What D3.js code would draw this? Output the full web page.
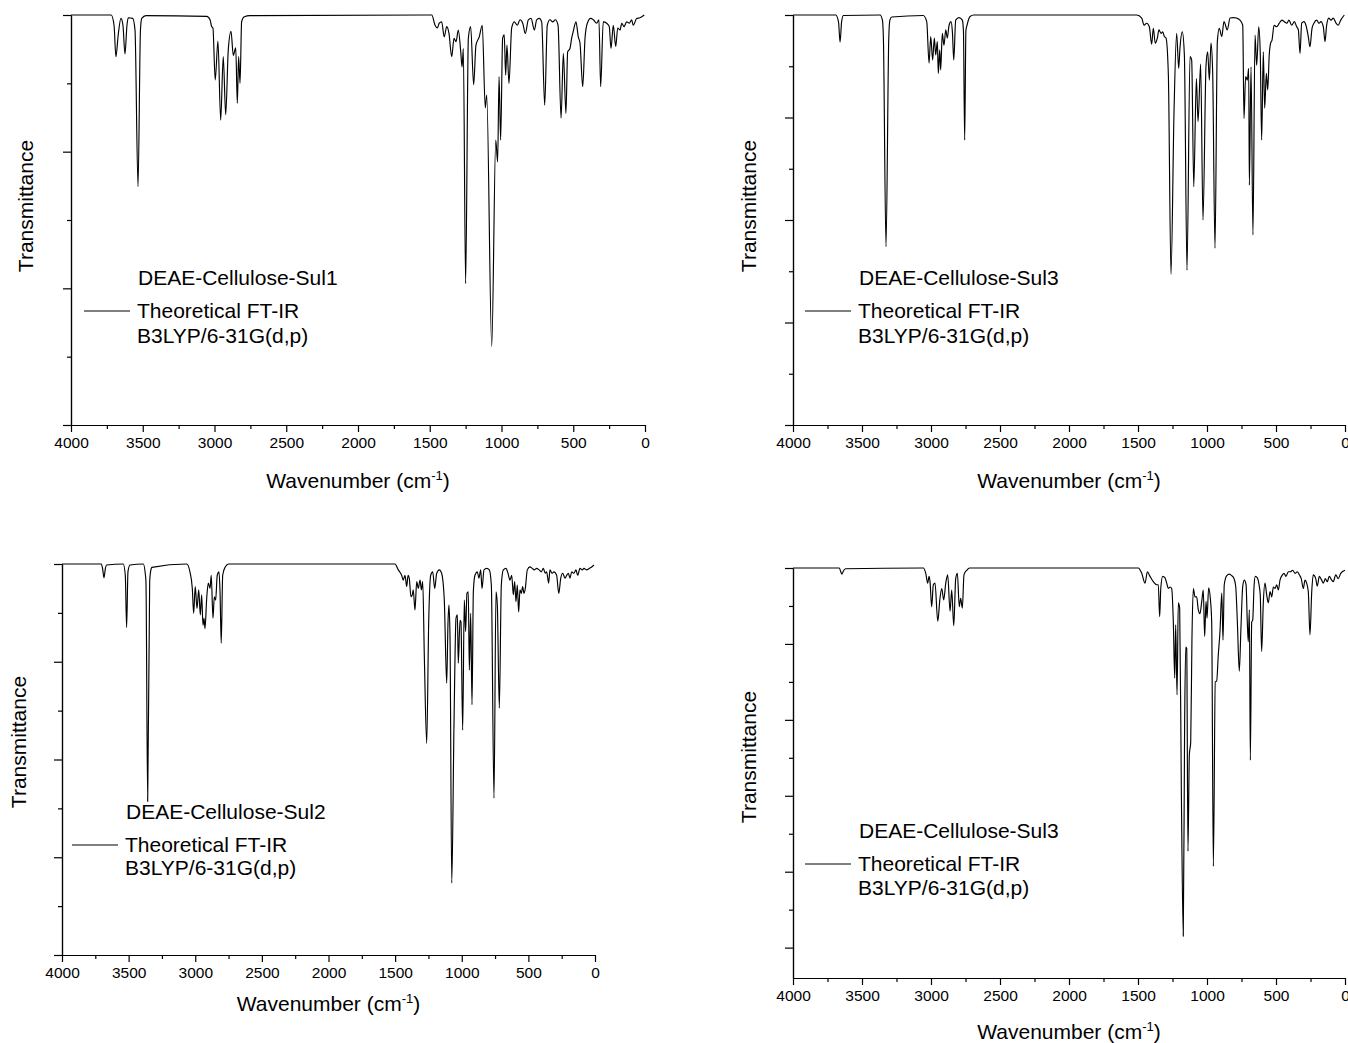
<!DOCTYPE html>
<html>
<head>
<meta charset="utf-8">
<script src="https://cdn.jsdelivr.net/npm/d3@7"></script>
<style>
	body { margin: 0; background: #fff; }
	svg text { font-family: "Liberation Sans", Arial, sans-serif; fill: #000; }
	.axis path, .axis line { stroke: #000; stroke-width: 1.2; }
	.spectrum { fill: none; stroke: #000; stroke-width: 1.15; }
</style>
</head>
<body>
<svg id="figure" width="1348" height="1043"></svg>
<script>

// Wavenumber ticks (cm-1)
var wnMajor = [4000, 3500, 3000, 2500, 2000, 1500, 1000, 500, 0];
var wnMinor = [3750, 3250, 2750, 2250, 1750, 1250, 750, 250];

var panelTitles = ["DEAE-Cellulose-Sul1", "DEAE-Cellulose-Sul3", "DEAE-Cellulose-Sul2", "DEAE-Cellulose-Sul3"];
var legendLines = ["Theoretical FT-IR", "B3LYP/6-31G(d,p)"];

// Spectra: [wavenumber, transmittance]
var sul1 = [
	[4000,100],[3720,100],[3700,98.5],[3687,93.9],[3671,97.1],[3652,99.5],[3638,98.5],[3624,94.3],[3610,98.5],[3601,99.6],
	[3570,99.5],[3554,97.8],[3533,74.9],[3516,97.8],[3507,99.5],[3478,99.9],[3054,99.8],[3031,99.3],[3020,98.3],[3011,98.1],
	[2995,90.5],[2976,96.2],[2957,84.6],[2939,93.9],[2922,85.4],[2904,94.9],[2885,97.6],[2869,94.1],[2852,95.2],[2841,87.1],
	[2832,93.9],[2822,90.0],[2811,99.0],[2795,99.7],[2753,99.9],[1486,100],[1463,98.5],[1447,98.1],[1434,98.8],[1417,99.0],
	[1399,96.8],[1382,98.3],[1366,97.3],[1347,93.9],[1331,96.6],[1317,96.1],[1301,97.8],[1284,94.6],[1275,92.4],[1266,95.1],
	[1250,60.7],[1231,96.6],[1215,98.3],[1194,89.8],[1178,95.6],[1155,96.8],[1134,98.5],[1113,86.4],[1103,88.3],[1068,51.5],
	[1040,81.7],[1027,78.5],[1017,91.0],[1006,81.7],[992,96.6],[981,97.1],[971,91.2],[962,95.6],[948,90.0],[929,98.1],
	[911,99.0],[890,98.5],[871,99.3],[852,98.8],[834,97.3],[813,99.3],[794,99.5],[771,97.8],[755,99.3],[737,99.5],
	[720,99.0],[699,86.8],[681,98.5],[662,99.3],[643,99.0],[625,99.3],[606,98.5],[585,84.9],[569,94.4],[551,85.6],
	[539,94.6],[523,95.1],[511,96.6],[500,97.6],[481,99.0],[465,96.8],[453,95.9],[434,89.5],[418,96.6],[402,98.8],
	[378,99.5],[360,99.3],[337,98.8],[321,99.3],[309,89.5],[291,99.0],[267,98.8],[249,98.3],[237,95.1],[221,98.5],
	[204,95.4],[190,98.1],[174,97.8],[162,98.8],[146,98.3],[128,99.0],[109,98.8],[93,99.3],[82,98.5],[58,99.5],
	[35,99.6],[5,100]
];

var sul3a = [
	[4000,100],[3690,100],[3670,98.6],[3659,94.7],[3648,98.6],[3635,99.9],[3369,100],[3352,99],[3345,95.5],[3326,54.8],
	[3306,95.5],[3298,99],[3285,99.6],[3056,99.9],[3031,98.7],[3014,90.6],[3002,95.8],[2988,91.2],[2976,95.5],[2966,92.2],
	[2954,94.8],[2947,88.6],[2937,93.2],[2930,89.3],[2918,96.4],[2906,94.1],[2893,97.1],[2882,95.5],[2869,98.0],[2855,98.7],
	[2845,96.7],[2835,91.2],[2821,99.0],[2797,99.5],[2773,99.0],[2765,97],[2756,75.6],[2747,97],[2739,98.0],[2717,99.7],
	[2690,100],[1509,100],[1473,99.4],[1456,98.0],[1437,98.4],[1418,97.7],[1401,94.3],[1389,97.4],[1375,94.5],[1360,95.5],
	[1348,97.1],[1333,96.4],[1321,96.7],[1309,95.8],[1297,95.5],[1280,88.3],[1261,49.4],[1239,81.1],[1220,96.4],[1205,89.6],
	[1196,93.5],[1179,96.7],[1164,92.2],[1145,50.2],[1123,91.9],[1111,91.2],[1096,66.5],[1077,87.6],[1065,79.2],[1046,90.4],
	[1029,60.0],[1007,90.2],[995,92.8],[983,87.3],[971,94.5],[959,88.9],[942,54.5],[925,94.8],[911,97.4],[893,95.8],
	[877,98.7],[853,97.1],[833,99.4],[809,99.5],[785,99.4],[761,99.0],[741,98.0],[732,79.8],[720,88.0],[708,87.3],
	[698,89.6],[693,66.8],[681,89.9],[667,57.1],[652,96.1],[640,90.2],[625,97.7],[614,92.5],[604,75.6],[592,92.8],
	[582,81.8],[570,88.6],[560,85.4],[549,92.2],[539,94.5],[529,95.1],[514,98.0],[495,97.7],[476,98.4],[457,99.0],
	[440,98.7],[422,98.4],[406,99.0],[386,98.0],[367,98.7],[350,97.7],[338,97.1],[326,92.5],[314,98.4],[297,98.7],
	[283,98.0],[266,95.8],[254,93.8],[239,97.4],[225,98.4],[205,99.0],[188,98.4],[174,98.7],[157,97.7],[145,94.8],
	[133,98.0],[118,99.4],[101,99.0],[85,99.4],[65,98.4],[49,98.0],[31,99.0],[5,100]
];

var sul2 = [
	[4000,100],[3705,100],[3695,99],[3685,97.2],[3675,99],[3665,99.8],[3540,100],[3525,97.7],[3515,87.0],[3505,98.4],
	[3490,99.8],[3390,100],[3375,98],[3370,96.4],[3357,51.4],[3342,96.4],[3335,98.5],[3325,99.3],[3064,100],[3040,98.4],
	[3022,95.0],[3012,89.9],[3000,95.4],[2987,90.9],[2974,94.7],[2962,89.6],[2952,93.7],[2942,87.5],[2934,88.9],[2927,86.8],
	[2914,93.0],[2902,96.1],[2889,95.0],[2880,97.7],[2867,88.9],[2857,93.3],[2847,92.6],[2835,97.7],[2822,98.4],[2814,94.3],
	[2805,83.8],[2794,97.7],[2775,99.4],[2750,100],[1501,100],[1476,98.8],[1451,97.7],[1439,96.7],[1426,97.7],[1413,95.4],
	[1403,97.7],[1394,97.1],[1381,93.3],[1371,93.7],[1364,94.7],[1351,90.6],[1338,96.4],[1326,95.0],[1313,96.7],[1303,94.7],
	[1293,96.4],[1281,81.4],[1263,63.3],[1248,88.2],[1233,97.7],[1218,98.4],[1203,95.0],[1188,98.1],[1168,98.8],[1151,98.1],
	[1131,92.6],[1113,75.6],[1103,88.2],[1096,91.6],[1088,84.8],[1075,34.7],[1058,67.7],[1043,88.9],[1033,89.6],[1026,79.7],
	[1013,88.5],[1006,88.2],[993,66.0],[981,92.6],[971,86.2],[961,94.0],[951,94.3],[943,78.3],[933,89.9],[923,71.2],
	[913,94.3],[901,97.7],[883,98.4],[871,97.1],[858,98.8],[848,95.0],[833,98.8],[813,99.1],[793,98.8],[778,95.7],
	[758,52.1],[743,94.3],[733,91.6],[718,70.5],[703,95.7],[688,98.8],[668,99.1],[653,98.1],[638,96.7],[625,97.7],
	[613,93.7],[603,96.4],[593,92.3],[583,95.7],[573,90.2],[563,94.7],[553,94.0],[543,95.4],[533,94.0],[523,95.0],
	[508,98.8],[488,99.4],[471,99.1],[456,98.8],[438,99.1],[420,98.8],[403,98.4],[388,99.1],[373,98.1],[363,98.4],
	[348,96.1],[338,98.8],[323,98.1],[308,98.4],[288,97.7],[272,94.0],[257,97.1],[242,98.1],[225,97.1],[212,97.7],
	[200,98.1],[188,97.1],[175,98.4],[158,98.1],[143,98.8],[130,97.7],[113,99.1],[95,98.8],[83,99.1],[62,98.8],
	[43,99.1],[25,99.4],[8,99.8]
];

var sul3b = [
	[4000,100],[3664,100],[3654,99.5],[3645,99.2],[3635,99.6],[3620,99.9],[3056,100],[3038,99.3],[3024,98.0],[3014,98.9],
	[3007,98.2],[2995,94.9],[2983,97.8],[2971,98.0],[2951,93.0],[2935,96.0],[2922,97.3],[2908,95.8],[2893,98.0],[2879,99.1],
	[2862,94.3],[2850,97.1],[2835,92.4],[2821,98.6],[2809,99.3],[2795,94.9],[2785,96.0],[2773,94.7],[2761,99.1],[2741,99.7],
	[2720,100],[1498,100],[1473,99.3],[1449,98.0],[1432,99.5],[1413,98.9],[1389,98.2],[1364,97.8],[1353,97.8],[1343,93.6],
	[1335,97.3],[1321,98.9],[1304,98.7],[1292,98.0],[1280,97.3],[1268,97.5],[1256,97.3],[1244,92.9],[1234,85.5],[1227,92.5],
	[1217,83.3],[1208,95.4],[1198,94.7],[1186,71.0],[1172,51.5],[1162,79.8],[1154,89.6],[1147,89.4],[1138,62.7],[1128,75.4],
	[1118,77.1],[1109,90.7],[1099,97.3],[1087,96.2],[1075,96.2],[1063,94.5],[1051,94.0],[1038,95.6],[1027,97.1],[1017,91.0],
	[1007,95.6],[1000,93.4],[988,97.4],[976,96.0],[966,92.9],[954,60.7],[940,85.0],[930,85.1],[918,88.6],[906,91.6],
	[893,96.7],[884,90.5],[875,97.8],[857,99.0],[838,99.2],[821,99.0],[804,98.6],[792,97.6],[780,92.9],[766,86.4],
	[754,92.1],[741,97.6],[730,98.4],[717,97.8],[708,92.9],[701,90.3],[693,94.5],[686,74.7],[676,92.9],[669,93.1],
	[659,97.6],[650,98.9],[635,98.7],[623,97.8],[614,96.4],[604,89.0],[592,95.4],[580,98.0],[567,96.4],[556,95.4],
	[543,96.9],[531,96.2],[519,97.5],[507,97.3],[495,97.8],[483,97.1],[471,98.4],[457,99.0],[442,99.3],[428,98.9],
	[411,99.5],[396,99.5],[379,99.7],[362,99.3],[346,99.5],[331,99.1],[317,98.6],[302,97.3],[290,98.4],[278,98.0],
	[266,96.9],[254,91.2],[241,96.9],[230,99.1],[212,98.6],[201,97.6],[186,98.9],[169,98.4],[157,98.0],[143,98.6],
	[128,98.2],[114,98.9],[96,98.4],[85,98.2],[67,99.1],[49,98.6],[31,99.3],[0,99.7]
];

// Transmittance ticks for each panel
var tTicks1 = [40, 50, 60, 70, 80, 90, 100];
var tTicks2 = [20, 30, 40, 50, 60, 70, 80, 90, 100];
var tTicks4 = [50, 55, 60, 65, 70, 75, 80, 85, 90, 95, 100];


function Panel(opts){
	for (var k in opts) this[k] = opts[k];
	this.draw();
}

Panel.prototype.draw = function(){

	var self = this,
		svg = d3.select("#figure");

	var x = d3.scaleLinear().domain([4000, 0]).range([this.left, this.right]),
		y = d3.scaleLinear().domain(this.yDomain).range([this.bottom, this.top]);

	var g = svg.append("g");

	// x axis: minor then major
	g.append("g")
		.classed("axis", true)
		.attr("transform", "translate(0," + this.bottom + ")")
		.call(d3.axisBottom(x).tickValues(wnMinor).tickSize(4).tickSizeOuter(0).tickFormat(""));

	g.append("g")
		.classed("axis", true)
		.attr("transform", "translate(0," + this.bottom + ")")
		.call(d3.axisBottom(x).tickValues(wnMajor).tickSize(7).tickPadding(5).tickSizeOuter(0).tickFormat(d3.format("d")))
		.selectAll("text")
			.attr("font-size", 15.5)
			.style("font-family", "'Liberation Sans', Arial, sans-serif");

	// y axis, no labels
	var major = this.yTicks.filter(function(d){ return d % self.majorStep === 0; }),
		minor = this.yTicks.filter(function(d){ return d % self.majorStep !== 0; });

	g.append("g")
		.classed("axis", true)
		.attr("transform", "translate(" + this.left + ",0)")
		.call(d3.axisLeft(y).tickValues(minor).tickSize(4).tickSizeOuter(0).tickFormat(""));

	g.append("g")
		.classed("axis", true)
		.attr("transform", "translate(" + this.left + ",0)")
		.call(d3.axisLeft(y).tickValues(major).tickSize(8).tickSizeOuter(0).tickFormat(""));

	// spectrum
	var line = d3.line()
		.x(function(d){ return x(d[0]); })
		.y(function(d){ return y(d[1]); })
		.curve(d3.curveMonotoneX);

	g.append("path")
		.datum(this.data)
		.classed("spectrum", true)
		.attr("d", line);

	// axis titles
	var xt = g.append("text")
		.attr("x", (this.left + this.right) / 2)
		.attr("y", this.bottom + this.xTitleGap)
		.attr("text-anchor", "middle")
		.attr("font-size", 21)
		.text("Wavenumber (cm");
	xt.append("tspan").attr("dy", -8).attr("font-size", 13).text("-1");
	xt.append("tspan").attr("dy", 8).text(")");

	g.append("text")
		.attr("transform", "translate(" + this.yTitleX + "," + this.yTitleY + ") rotate(-90)")
		.attr("text-anchor", "middle")
		.attr("font-size", 21)
		.text("Transmittance");

	// legend
	g.append("text")
		.attr("x", this.legX + 54)
		.attr("y", this.legY)
		.attr("font-size", 21)
		.text(this.title);

	g.append("line")
		.attr("x1", this.legX).attr("x2", this.legX + 46)
		.attr("y1", this.legY + 26).attr("y2", this.legY + 26)
		.attr("stroke", "#000").attr("stroke-width", 1);

	g.selectAll(".leg")
		.data(legendLines)
		.enter()
			.append("text")
				.attr("x", this.legX + 53)
				.attr("y", function(d, i){ return self.legY + 33 + i * self.legStep; })
				.attr("font-size", 21)
				.text(function(d){ return d; });
};

new Panel({ left: 71, right: 645, top: 15, bottom: 425, yDomain: [40, 100], yTicks: tTicks1, majorStep: 20,
	data: sul1, title: panelTitles[0], xTitleGap: 63, yTitleX: 33, yTitleY: 206, legX: 84, legY: 285, legStep: 25 });

new Panel({ left: 793, right: 1345, top: 15, bottom: 425, yDomain: [20, 100], yTicks: tTicks2, majorStep: 20,
	data: sul3a, title: panelTitles[1], xTitleGap: 63, yTitleX: 756, yTitleY: 206, legX: 805, legY: 285, legStep: 25 });

new Panel({ left: 62, right: 595, top: 564, bottom: 955, yDomain: [20, 100], yTicks: tTicks2, majorStep: 20,
	data: sul2, title: panelTitles[2], xTitleGap: 56, yTitleX: 26, yTitleY: 742, legX: 72, legY: 819, legStep: 23 });

new Panel({ left: 793, right: 1345, top: 568, bottom: 978, yDomain: [46, 100], yTicks: tTicks4, majorStep: 10,
	data: sul3b, title: panelTitles[3], xTitleGap: 61, yTitleX: 756, yTitleY: 757, legX: 805, legY: 838, legStep: 24 });

</script>
</body>
</html>
